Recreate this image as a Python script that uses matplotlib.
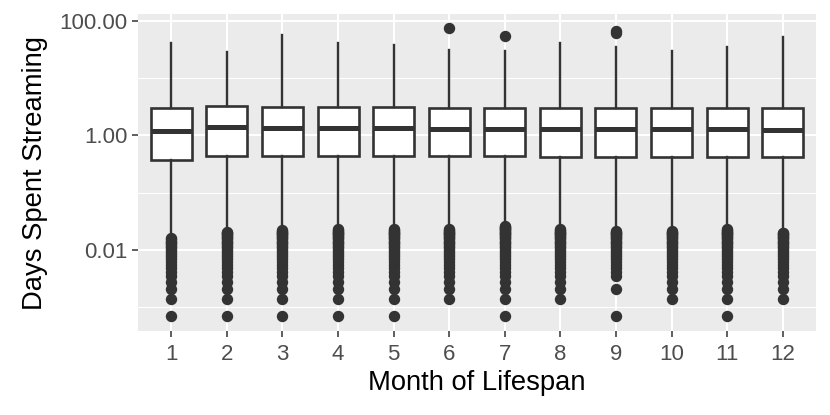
import matplotlib
matplotlib.use("Agg")
import matplotlib.pyplot as plt
from matplotlib.ticker import FixedLocator, NullFormatter

months = [1, 2, 3, 4, 5, 6, 7, 8, 9, 10, 11, 12]

# box statistics (days)
q1 = [0.371, 0.437, 0.437, 0.442, 0.437, 0.432, 0.442, 0.425, 0.414, 0.414, 0.425, 0.414]
med = [1.205, 1.380, 1.324, 1.327, 1.327, 1.291, 1.291, 1.274, 1.274, 1.274, 1.274, 1.239]
q3 = [2.965, 3.258, 3.170, 3.162, 3.083, 3.034, 2.965, 2.965, 2.965, 2.965, 2.965, 2.965]
whisker_high = [40.4, 28.1, 57.0, 40.4, 37.7, 30.8, 30.0, 41.3, 35.2, 29.6, 34.4, 52.6]
# lower whisker end, in minutes
whisker_low_min = [24, 31, 33, 34, 34, 34, 39, 34, 32, 32, 34, 30]

# low outliers, in minutes of streaming
low_outliers_min = [
    [1, 2, 3, 4, 5, 6, 7, 8, 9, 10, 11, 12, 13, 14, 15, 16, 17, 18, 19, 20, 21, 22, 23],
    [1, 2, 3, 4, 5, 6, 7, 8, 9, 10, 11, 12, 13, 14, 15, 16, 17, 18, 19, 20, 21, 22, 23, 24, 25, 26, 27, 28, 29, 30],
    [1, 2, 3, 4, 5, 6, 7, 8, 9, 10, 11, 12, 13, 14, 15, 16, 17, 18, 19, 20, 21, 22, 23, 24, 25, 26, 27, 28, 29, 30, 31, 32],
    [1, 2, 3, 4, 5, 6, 7, 8, 9, 10, 11, 12, 13, 14, 15, 16, 17, 18, 19, 20, 21, 22, 23, 24, 25, 26, 27, 28, 29, 30, 31, 32, 33],
    [1, 2, 3, 4, 5, 6, 7, 8, 9, 10, 11, 12, 13, 14, 15, 16, 17, 18, 19, 20, 21, 22, 23, 24, 25, 26, 27, 28, 29, 30, 31, 32, 33],
    [2, 3, 4, 5, 6, 7, 8, 9, 10, 11, 12, 13, 14, 15, 16, 17, 18, 19, 20, 21, 22, 23, 24, 25, 26, 27, 28, 29, 30, 31, 32, 33],
    [1, 2, 3, 4, 5, 6, 7, 8, 9, 10, 11, 12, 13, 14, 15, 16, 17, 18, 19, 20, 21, 22, 23, 24, 25, 26, 27, 28, 29, 30, 31, 32, 33, 34, 35, 36, 37, 38],
    [2, 3, 4, 5, 6, 7, 8, 9, 10, 11, 12, 13, 14, 15, 16, 17, 18, 19, 20, 21, 22, 23, 24, 25, 26, 27, 28, 29, 30, 31, 32, 33],
    [1, 3, 5, 6, 7, 8, 9, 10, 11, 12, 13, 14, 15, 16, 17, 18, 19, 20, 21, 22, 23, 24, 25, 26, 27, 28, 29, 30, 31],
    [2, 3, 4, 5, 6, 7, 8, 9, 10, 11, 12, 13, 14, 15, 16, 17, 18, 19, 20, 21, 22, 23, 24, 25, 26, 27, 28, 29, 30, 31],
    [1, 2, 3, 4, 5, 6, 7, 8, 9, 10, 11, 12, 13, 14, 15, 16, 17, 18, 19, 20, 21, 22, 23, 24, 25, 26, 27, 28, 29, 30, 31, 32, 33],
    [2, 3, 4, 5, 6, 7, 8, 9, 10, 11, 12, 13, 14, 15, 16, 17, 18, 19, 20, 21, 22, 23, 24, 25, 26, 27, 28, 29],
]
# high outliers, in days
high_outliers = [[], [], [], [], [], [73.6], [54.1], [], [67.0, 60.3], [], [], []]

y_ticks = [0.01, 1, 100]
y_minor = [0.001, 0.1, 10]

MIN_PER_DAY = 1440.0

stats = []
for i, m in enumerate(months):
    fl = [k / MIN_PER_DAY for k in low_outliers_min[i]] + list(high_outliers[i])
    stats.append(dict(med=med[i], q1=q1[i], q3=q3[i],
                      whislo=whisker_low_min[i] / MIN_PER_DAY,
                      whishi=whisker_high[i], fliers=fl, label=str(m)))

plt.rcParams['font.family'] = ['Liberation Sans', 'DejaVu Sans']

fig = plt.figure(figsize=(8.3, 4.15), dpi=100)
ax = fig.add_axes([138 / 830, 1 - 331 / 415, (816 - 138) / 830, (331 - 14) / 415])
ax.set_facecolor('#EBEBEB')
for s in ax.spines.values():
    s.set_visible(False)

dark = '#333333'
ax.set_yscale('log')
ax.bxp(stats, positions=months, widths=0.74, patch_artist=True, showcaps=False,
       boxprops=dict(facecolor='white', edgecolor=dark, linewidth=1.9),
       medianprops=dict(color=dark, linewidth=3.6, solid_capstyle='butt'),
       whiskerprops=dict(color=dark, linewidth=1.7),
       flierprops=dict(marker='o', markersize=8.2, markerfacecolor=dark,
                       markeredgecolor=dark, markeredgewidth=0, linestyle='none'),
       zorder=3)

ax.set_xlim(0.4, 12.6)
ax.set_ylim(10 ** -3.413, 10 ** 2.117)

ax.yaxis.set_major_locator(FixedLocator(y_ticks))
ax.yaxis.set_minor_locator(FixedLocator(y_minor))
ax.yaxis.set_minor_formatter(NullFormatter())
ax.set_yticklabels(['%.2f' % v for v in y_ticks])
ax.set_xticks(months)
ax.set_xticklabels([str(m) for m in months])

ax.grid(True, which='major', color='white', linewidth=1.5, zorder=0)
ax.grid(True, which='minor', axis='y', color='white', linewidth=0.75, zorder=0)
ax.set_axisbelow(True)

ax.tick_params(axis='both', which='major', color=dark, length=4, width=1.1,
               labelsize=16, labelcolor='#4D4D4D', pad=3.5)
ax.tick_params(axis='x', which='major', pad=5)
ax.tick_params(axis='y', which='minor', length=0)

ax.set_xlabel('Month of Lifespan', fontsize=19.7, color='black', labelpad=4)
ax.set_ylabel('Days Spent Streaming', fontsize=19.7, color='black', labelpad=8)

fig.savefig('out.png', dpi=100)
